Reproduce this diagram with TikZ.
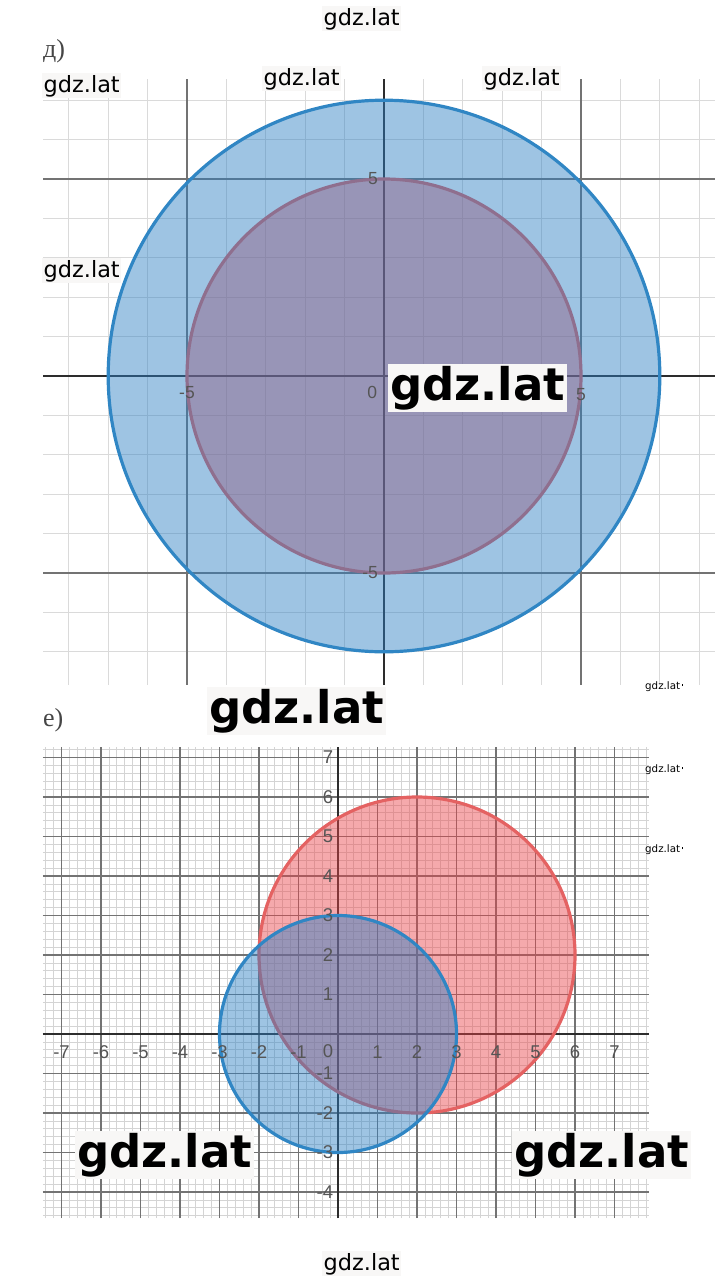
\documentclass[tikz,border=0pt]{standalone}
\usepackage{fontspec}
\setmainfont{DejaVu Sans}
\newfontfamily\wmfont{DejaVu Sans}
\newfontfamily\tickfont{Liberation Sans}
\newfontfamily\serfont{Liberation Serif}
\definecolor{bluec}{RGB}{44,127,196}
\definecolor{redc}{RGB}{235,66,71}
\definecolor{bluestroke}{RGB}{48,134,196}
\definecolor{redstroke}{RGB}{228,98,98}
\definecolor{minorgrid}{RGB}{218,218,218}
\definecolor{minorgridb}{RGB}{212,212,212}
\definecolor{majorgrid}{RGB}{115,115,115}
\definecolor{axiscol}{RGB}{45,45,45}
\definecolor{wmbg}{RGB}{248,247,246}
\definecolor{ticklab}{RGB}{85,85,85}
\definecolor{partcol}{RGB}{70,70,70}
\begin{document}
\begin{tikzpicture}[x=1pt,y=-1pt,
  minorline/.style={draw=minorgrid, line width=0.9pt},
  minorlineb/.style={draw=minorgridb, line width=0.7pt},
  majorline/.style={draw=majorgrid, line width=1.2pt},
  axisline/.style={draw=axiscol, line width=1.9pt},
  redcirc/.style={fill=redc, fill opacity=0.45, draw=redstroke, line width=3.2pt},
  bluecirc/.style={fill=bluec, fill opacity=0.46, draw=bluestroke, line width=3.2pt},
  wmsmall/.style={font=\wmfont\fontsize{22.4}{24}\selectfont, fill=wmbg, inner sep=1.5pt, anchor=base west, text=black},
  wmbig/.style={font=\wmfont\bfseries\fontsize{45}{50}\selectfont, fill=wmbg, inner sep=2pt, anchor=base west, text=black},
  wmtiny/.style={font=\wmfont\fontsize{10.3}{12}\selectfont, inner sep=0pt, anchor=base west, text=black},
  ticktop/.style={font=\tickfont\fontsize{17.5}{19}\selectfont, text=ticklab, inner sep=0pt},
  tickbot/.style={font=\tickfont\fontsize{18.5}{20}\selectfont, text=ticklab, inner sep=0pt},
  partlab/.style={font=\serfont\fontsize{26}{28}\selectfont, text=partcol, anchor=base west, inner sep=0pt}
]
\fill[white] (0,0) rectangle (720,1277);
\useasboundingbox (0,0) rectangle (720,1277);

% ---------- top graph (д) ----------
\node[partlab] (pd) at (43,57) {д)};
\begin{scope}[shift={(384,376)}, x=39.4pt, y=39.4pt]
  \begin{scope}
    \clip (-8.65,-7.84) rectangle (8.4,7.54);
    \foreach \k in {-8,...,8} \draw[minorline] (\k,-7.84) -- (\k,7.54);
    \foreach \k in {-7,...,7} \draw[minorline] (-8.65,\k) -- (8.4,\k);
    \foreach \k in {-5,5} {
      \draw[majorline] (\k,-7.84) -- (\k,7.54);
      \draw[majorline] (-8.65,\k) -- (8.4,\k);
    }
    \draw[axisline] (-8.65,0) -- (8.4,0);
    \draw[axisline] (0,-7.84) -- (0,7.54);
  \end{scope}
  \draw[redcirc] (0,0) circle[radius=5];
  \draw[bluecirc] (0,0) circle[radius=7];
  \node[ticktop, anchor=east] (ty5) at (-0.15,5) {5};
  \node[ticktop, anchor=east] (tym5) at (-0.15,-5) {-5};
  \node[ticktop] (tx0) at (-0.3,-0.43) {0};
  \node[ticktop] (txm5) at (-5,-0.43) {-5};
  \node[ticktop] (tx5) at (5,-0.46) {5};
\end{scope}

% ---------- bottom graph (е) ----------
\node[partlab] (pe) at (43,726) {е)};
\begin{scope}[shift={(338,1034)}, x=39.5pt, y=39.5pt]
  \begin{scope}
    \clip (-7.47,-4.66) rectangle (7.87,7.27);
    \foreach \i in {-38,...,40} \draw[minorlineb] (\i/5,-4.66) -- (\i/5,7.27);
    \foreach \i in {-24,...,37} \draw[minorlineb] (-7.47,\i/5) -- (7.87,\i/5);
    \foreach \k in {-7,...,7} \draw[majorline] (\k,-4.66) -- (\k,7.27);
    \foreach \k in {-4,...,7} \draw[majorline] (-7.47,\k) -- (7.87,\k);
    \draw[axisline] (-7.47,0) -- (7.87,0);
    \draw[axisline] (0,-4.66) -- (0,7.27);
  \end{scope}
  \draw[redcirc] (2,2) circle[radius=4];
  \draw[bluecirc] (0,0) circle[radius=3];
  \foreach \k in {-7,-6,-5,-4,-3,-2,-1,1,2,3,4,5,6,7}
    \node[tickbot] (bx\k) at (\k,-0.45) {\k};
  \foreach \k in {-4,-3,-2,-1,1,2,3,4,5,6,7}
    \node[tickbot, anchor=east] (by\k) at (-0.12,\k) {\k};
  \node[tickbot, anchor=east] (b0) at (-0.12,-0.43) {0};
\end{scope}

% ---------- watermarks ----------
\node[wmsmall] (w1) at (322,25) {gdz.lat};
\node[wmsmall] (w2) at (42,92) {gdz.lat};
\node[wmsmall] (w3) at (262,85) {gdz.lat};
\node[wmsmall] (w4) at (482,85) {gdz.lat};
\node[wmsmall] (w5) at (42,277) {gdz.lat};
\node[wmsmall] (w6) at (322,1270) {gdz.lat};
\node[wmbig] (b1) at (388,400) {gdz.lat};
\node[wmbig] (b2) at (207,723) {gdz.lat};
\node[wmbig] (b3) at (75,1167) {gdz.lat};
\node[wmbig] (b4) at (512,1167) {gdz.lat};
\node[wmtiny] (s1) at (645,689) {gdz.lat\hspace{1.5pt}\rule[3pt]{1.8pt}{1.8pt}};
\node[wmtiny] (s2) at (645,772) {gdz.lat\hspace{1.5pt}\rule[3pt]{1.8pt}{1.8pt}};
\node[wmtiny] (s3) at (645,852) {gdz.lat\hspace{1.5pt}\rule[3pt]{1.8pt}{1.8pt}};
\end{tikzpicture}
\end{document}
